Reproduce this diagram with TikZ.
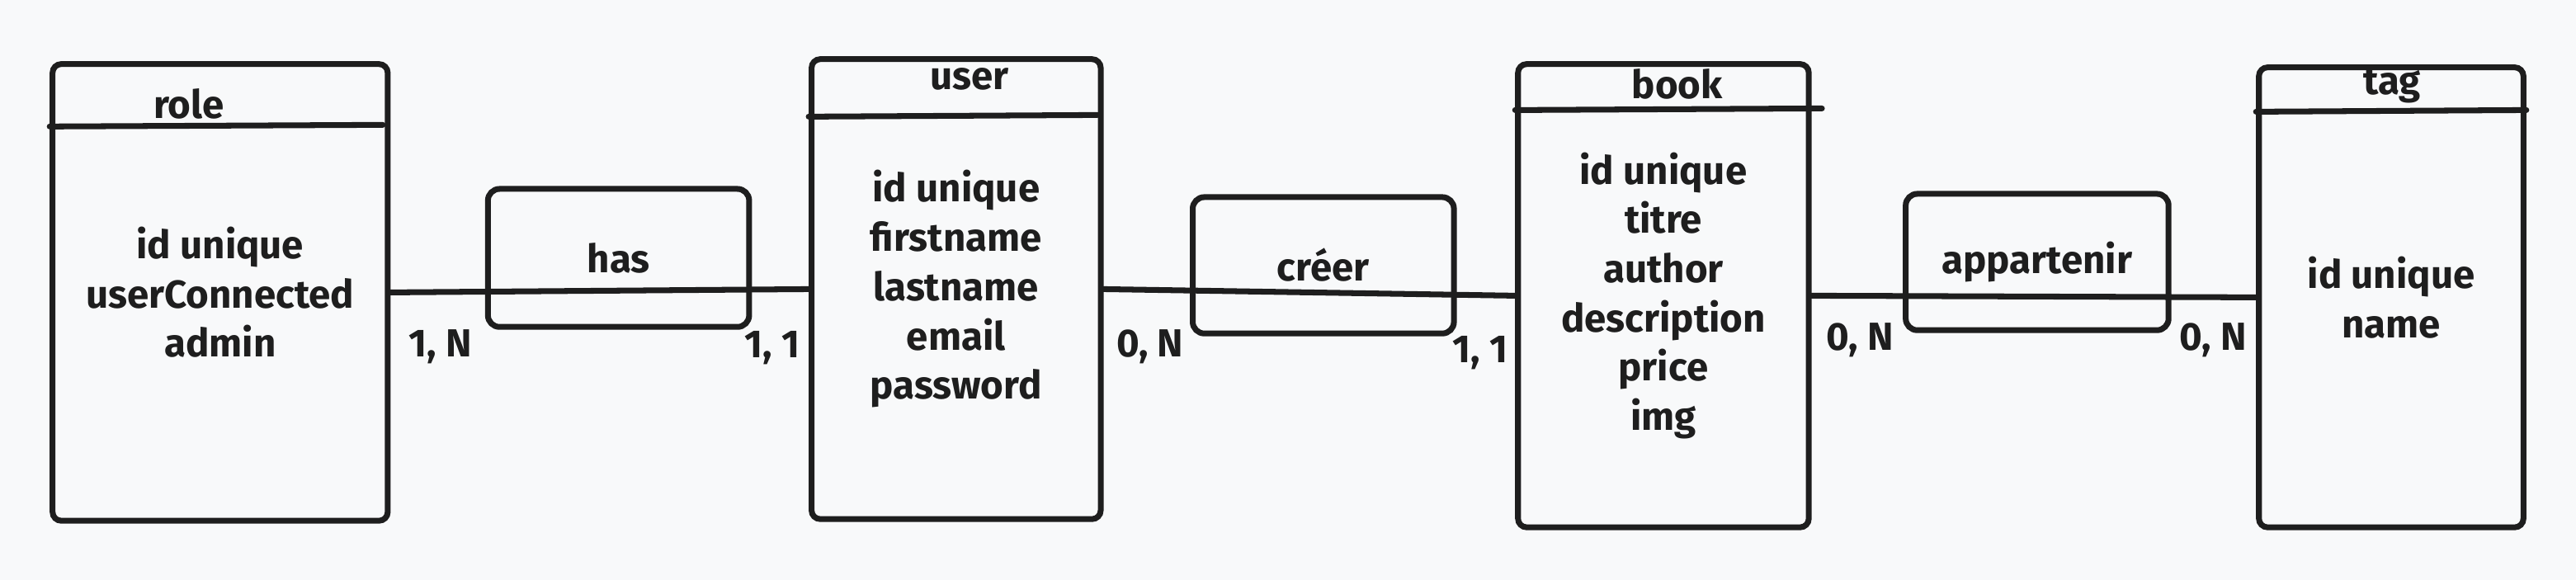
\documentclass[tikz,border=0pt]{standalone}
\usepackage{fontspec}
\newfontfamily\hand{Fira Sans}
\usetikzlibrary{fit,backgrounds,positioning,calc}
\definecolor{colorInk}{HTML}{1E1E1E}
\definecolor{colorPaper}{HTML}{F8F9FA}
\newcommand{\erfont}{\hand\bfseries\fontsize{13.5}{17}\selectfont}
\tikzset{
   entity/.style={draw=colorInk,line width=2pt,rounded corners=3pt,inner sep=0pt},
   relation/.style={draw=colorInk,line width=2pt,rounded corners=4pt,inner sep=0pt},
   attrs/.style={align=center,text=colorInk,font=\erfont},
   head/.style={colorInk,line width=2pt,line cap=round},
   title/.style={text=colorInk,font=\erfont},
   card/.style={text=colorInk,font=\erfont},
   link/.style={-,colorInk,line width=2pt,line cap=round},
}

\begin{document}
\begin{tikzpicture}[x=0.01991cm,y=-0.01991cm]
        \fill[colorPaper] (0,0) rectangle (1568,353);
        \useasboundingbox (0,0) rectangle (1568,353);

        \node[entity,fit={(32,39) (236,317)}] (role) {};
        \node[entity,fit={(494,36) (670,316)}] (user) {};
        \node[entity,fit={(924,39) (1101,321)}] (book) {};
        \node[entity,fit={(1375,41) (1536,321)}] (tag) {};

        \node[attrs] (roleA) at (role.center) {id unique\\userConnected\\admin};
        \node[attrs] (userA) at (user.center) {id unique\\firstname\\lastname\\email\\password};
        \node[attrs] (bookA) at (book.center) {id unique\\titre\\author\\description\\price\\img};
        \node[attrs] (tagA)  at (tag.center) {id unique\\name};

        \node[title] (roleT) at (115,63) {role};
        \node[title] (userT) at (590,48) {user};
        \node[title] (bookT) at (1021,51) {book};
        \node[title] (tagT)  at (1456,52) {tag};

        \draw[head] (role.west |- 0,77) -- (233,76);
        \draw[head] (user.west |- 0,71) -- (668,70);
        \draw[head] (book.west |- 0,67) -- (1109,66);
        \draw[head] (tag.west |- 0,68) -- (tag.east |- 0,67);

        \node[relation,fit={(297,115) (456,199)}] (has) {};
        \node[relation,fit={(726,120) (885,203)}] (creer) {};
        \node[relation,fit={(1160,118) (1320,201)}] (appartenir) {};

        \node[attrs] (hasL) at (has.center) {has};
        \node[attrs] (creerL) at (creer.center) {créer};
        \node[attrs] (appartenirL) at (appartenir.center) {appartenir};

        \draw[link] (role.east) -- (user.west);
        \draw[link] (user.east) -- (book.west);
        \draw[link] (book.east) -- (tag.west);

        \node[card] (hasA) at (268,211) {1, N};
        \node[card] (hasB) at (470,212) {1, 1};
        \node[card] (creerA) at (700,211) {0, N};
        \node[card] (creerB) at (901,215) {1, 1};
        \node[card] (appA) at (1132,207) {0, N};
        \node[card] (appB) at (1347,207) {0, N};
    \end{tikzpicture}
\end{document}
